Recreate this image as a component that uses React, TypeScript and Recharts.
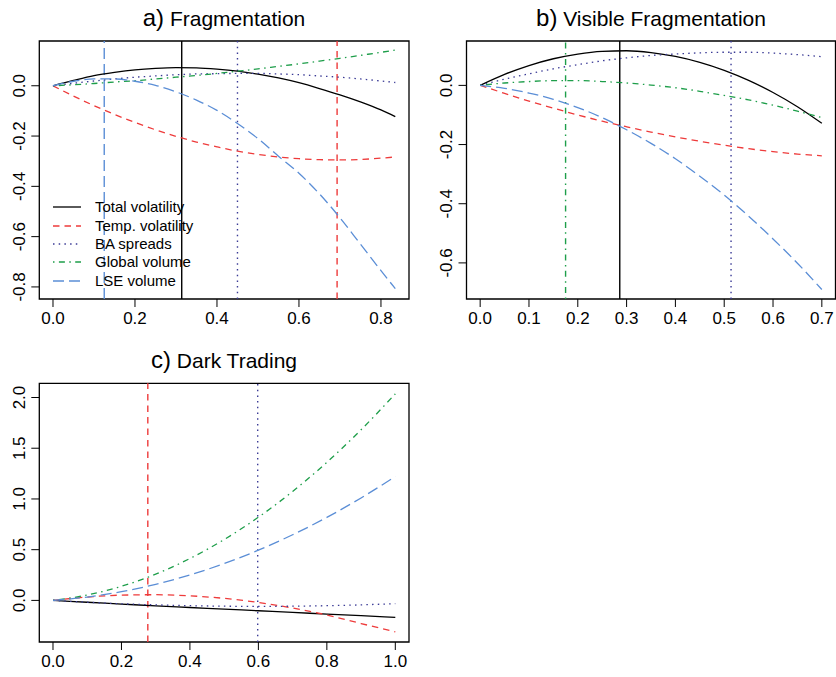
import React from "react";
import {
  LineChart,
  Line,
  XAxis,
  YAxis,
  ReferenceLine,
  ReferenceArea,
  Legend,
} from "recharts";

const FONT = '"Liberation Sans", Arial, Helvetica, sans-serif';

// ─── Data ────────────────────────────────────────────────────────────────────
// a) Fragmentation
const A_X = [0, 0.05, 0.1, 0.15, 0.2, 0.25, 0.3, 0.35, 0.4, 0.45, 0.5, 0.55, 0.6, 0.65, 0.7, 0.75, 0.8, 0.835];
const A_TOTAL = [0, 0.021, 0.04, 0.053, 0.063, 0.069, 0.072, 0.071, 0.066, 0.058, 0.046, 0.031, 0.012, -0.011, -0.036, -0.064, -0.096, -0.123];
const A_TEMP = [0, -0.041, -0.079, -0.114, -0.146, -0.175, -0.201, -0.224, -0.243, -0.26, -0.273, -0.283, -0.29, -0.294, -0.295, -0.293, -0.288, -0.283];
const A_BA = [0, 0.01, 0.019, 0.027, 0.034, 0.039, 0.044, 0.047, 0.048, 0.049, 0.049, 0.047, 0.044, 0.039, 0.034, 0.027, 0.019, 0.013];
const A_GLOBAL = [0, 0.004, 0.009, 0.015, 0.02, 0.027, 0.034, 0.041, 0.049, 0.058, 0.067, 0.077, 0.087, 0.098, 0.109, 0.121, 0.133, 0.142];
const A_LSE = [0, 0.018, 0.027, 0.027, 0.018, 0.002, -0.024, -0.057, -0.098, -0.15, -0.21, -0.28, -0.348, -0.43, -0.525, -0.63, -0.735, -0.807];
const A_XTICKS = [0, 0.2, 0.4, 0.6, 0.8];
const A_YTICKS = [-0.8, -0.6, -0.4, -0.2, 0];
const A_VLINES = { total: 0.314, temp: 0.693, ba: 0.45, lse: 0.125 };

// b) Visible Fragmentation
const B_X = [0, 0.05, 0.1, 0.15, 0.2, 0.25, 0.3, 0.35, 0.4, 0.45, 0.5, 0.55, 0.6, 0.65, 0.7];
const B_TOTAL = [0, 0.037, 0.067, 0.09, 0.106, 0.115, 0.117, 0.111, 0.098, 0.078, 0.051, 0.017, -0.024, -0.072, -0.128];
const B_TEMP = [0, -0.027, -0.053, -0.077, -0.1, -0.121, -0.14, -0.158, -0.174, -0.189, -0.202, -0.214, -0.224, -0.232, -0.238];
const B_BA = [0, 0.021, 0.039, 0.056, 0.07, 0.083, 0.093, 0.101, 0.106, 0.11, 0.112, 0.112, 0.109, 0.104, 0.097];
const B_GLOBAL = [0, 0.008, 0.013, 0.016, 0.016, 0.013, 0.008, 0.001, -0.008, -0.02, -0.034, -0.049, -0.067, -0.087, -0.109];
const B_LSE = [0, -0.01, -0.026, -0.047, -0.075, -0.109, -0.15, -0.196, -0.248, -0.307, -0.371, -0.442, -0.519, -0.601, -0.69];
const B_XTICKS = [0, 0.1, 0.2, 0.3, 0.4, 0.5, 0.6, 0.7];
const B_YTICKS = [-0.6, -0.4, -0.2, 0];
const B_VLINES = { total: 0.286, ba: 0.514, global: 0.175 };

// c) Dark Trading
const C_X = [0, 0.1, 0.2, 0.3, 0.4, 0.5, 0.6, 0.7, 0.8, 0.9, 1.0];
const C_TOTAL = [0, -0.018, -0.036, -0.054, -0.07, -0.086, -0.102, -0.118, -0.135, -0.151, -0.168];
const C_TEMP = [0, 0.033, 0.052, 0.056, 0.045, 0.02, -0.02, -0.075, -0.144, -0.228, -0.31];
const C_BA = [0, -0.018, -0.033, -0.044, -0.052, -0.057, -0.059, -0.057, -0.052, -0.044, -0.032];
const C_GLOBAL = [0, 0.053, 0.139, 0.259, 0.413, 0.6, 0.82, 1.074, 1.361, 1.682, 2.036];
const C_LSE = [0, 0.033, 0.086, 0.158, 0.251, 0.363, 0.495, 0.647, 0.818, 1.01, 1.221];
const C_XTICKS = [0, 0.2, 0.4, 0.6, 0.8, 1.0];
const C_YTICKS = [0, 0.5, 1.0, 1.5, 2.0];
const C_VLINES = { temp: 0.277, ba: 0.598 };

// ─── Series styling ──────────────────────────────────────────────────────────
const SERIES = [
  { key: "total", name: "Total volatility", color: "#000000", dash: undefined as string | undefined },
  { key: "temp", name: "Temp. volatility", color: "#EE3B3B", dash: "6.5 5" },
  { key: "ba", name: "BA spreads", color: "#3B3B96", dash: "1.5 4.2" },
  { key: "global", name: "Global volume", color: "#1E9E4A", dash: "1.5 4.4 6 4.4" },
  { key: "lse", name: "LSE volume", color: "#5B8ED6", dash: "11 5" },
];

function rows(xs: number[], total: number[], temp: number[], ba: number[], global: number[], lse: number[]) {
  return xs.map((x, i) => ({ x, total: total[i], temp: temp[i], ba: ba[i], global: global[i], lse: lse[i] }));
}

const fmt = (v: number) => v.toFixed(1);

function YTick(props: any) {
  const { x, y, payload } = props;
  return (
    <text
      x={x}
      y={y}
      transform={`rotate(-90 ${x} ${y})`}
      textAnchor="middle"
      fontSize={17}
      fontFamily={FONT}
      fill="#000"
    >
      {fmt(payload.value)}
    </text>
  );
}

function LegendBox() {
  return (
    <div style={{ fontFamily: FONT, fontSize: 15, color: "#000" }}>
      {SERIES.map((s) => (
        <div key={s.key} style={{ display: "flex", alignItems: "center", height: 18.4 }}>
          <svg width={28} height={6} style={{ marginRight: 14 }}>
            <line x1={0} y1={3} x2={28} y2={3} stroke={s.color} strokeWidth={1.3} strokeDasharray={s.dash} />
          </svg>
          <span style={{ lineHeight: "18px" }}>{s.name}</span>
        </div>
      ))}
    </div>
  );
}

interface PanelProps {
  data: any[];
  width: number;
  height: number;
  margin: { top: number; right: number; bottom: number; left: number };
  yWidth: number;
  xHeight: number;
  xDomain: [number, number];
  yDomain: [number, number];
  xTicks: number[];
  yTicks: number[];
  vlines: Record<string, number>;
  legend?: boolean;
}

function Panel({ data, width, height, margin, yWidth, xHeight, xDomain, yDomain, xTicks, yTicks, vlines, legend }: PanelProps) {
  return (
    <LineChart width={width} height={height} data={data} margin={margin}>
      <XAxis
        dataKey="x"
        type="number"
        domain={xDomain}
        ticks={xTicks}
        interval={0}
        allowDataOverflow
        height={xHeight}
        axisLine={false}
        tickLine={{ stroke: "#000" }}
        tickSize={8}
        tickMargin={5}
        tickFormatter={fmt}
        tick={{ fill: "#000", fontSize: 17, fontFamily: FONT }}
      />
      <YAxis
        type="number"
        domain={yDomain}
        ticks={yTicks}
        interval={0}
        allowDataOverflow
        width={yWidth}
        axisLine={false}
        tickLine={{ stroke: "#000" }}
        tickSize={8}
        tickMargin={6}
        tick={<YTick />}
      />
      <ReferenceArea
        x1={xDomain[0]}
        x2={xDomain[1]}
        y1={yDomain[0]}
        y2={yDomain[1]}
        fill="none"
        fillOpacity={0}
        stroke="#000"
        strokeWidth={1.3}
        ifOverflow="visible"
      />
      {SERIES.filter((s) => vlines[s.key] !== undefined).map((s) => (
        <ReferenceLine
          key={"v" + s.key}
          x={vlines[s.key]}
          stroke={s.color}
          strokeWidth={1.4}
          strokeDasharray={s.dash}
        />
      ))}
      {SERIES.map((s) => (
        <Line
          key={s.key}
          dataKey={s.key}
          name={s.name}
          type="monotone"
          stroke={s.color}
          strokeWidth={1.3}
          strokeDasharray={s.dash}
          dot={false}
          activeDot={false}
          isAnimationActive={false}
        />
      ))}
      {legend && (
        <Legend
          layout="vertical"
          align="center"
          verticalAlign="middle"
          content={<LegendBox />}
          wrapperStyle={{ left: 53, top: 198, width: 200, height: 95 }}
        />
      )}
    </LineChart>
  );
}

export default function App() {
  const dataA = rows(A_X, A_TOTAL, A_TEMP, A_BA, A_GLOBAL, A_LSE);
  const dataB = rows(B_X, B_TOTAL, B_TEMP, B_BA, B_GLOBAL, B_LSE);
  const dataC = rows(C_X, C_TOTAL, C_TEMP, C_BA, C_GLOBAL, C_LSE);

  return (
    <div
      style={{
        position: "absolute",
        left: 0,
        top: 0,
        width: 836,
        height: 677,
        overflow: "hidden",
        background: "#fff",
        fontFamily: FONT,
      }}
    >
      <div style={{ position: "absolute", left: 0, top: 0 }}>
        <Panel
          data={dataA}
          width={420}
          height={340}
          margin={{ top: 41, right: 11, bottom: 1, left: 0.3 }}
          yWidth={39}
          xHeight={40}
          xDomain={[-0.0334, 0.8684]}
          yDomain={[-0.848, 0.178]}
          xTicks={A_XTICKS}
          yTicks={A_YTICKS}
          vlines={A_VLINES}
          legend
        />
      </div>
      <div style={{ position: "absolute", left: 420, top: 0 }}>
        <Panel
          data={dataB}
          width={416}
          height={340}
          margin={{ top: 41, right: 0.5, bottom: 1, left: 0.5 }}
          yWidth={46}
          xHeight={40}
          xDomain={[-0.028, 0.728]}
          yDomain={[-0.722, 0.15]}
          xTicks={B_XTICKS}
          yTicks={B_YTICKS}
          vlines={B_VLINES}
        />
      </div>
      <div style={{ position: "absolute", left: 0, top: 340 }}>
        <Panel
          data={dataC}
          width={420}
          height={337}
          margin={{ top: 43.3, right: 11, bottom: 1, left: 0.3 }}
          yWidth={39}
          xHeight={34}
          xDomain={[-0.04, 1.04]}
          yDomain={[-0.41, 2.14]}
          xTicks={C_XTICKS}
          yTicks={C_YTICKS}
          vlines={C_VLINES}
        />
      </div>
      <svg
        width={836}
        height={677}
        style={{ position: "absolute", left: 0, top: 0, pointerEvents: "none" }}
      >
        <text x={224} y={26} textAnchor="middle" fontFamily={FONT} fontSize={21} fill="#000">
          <tspan fontSize={24}>a)</tspan> Fragmentation
        </text>
        <text x={651} y={26} textAnchor="middle" fontFamily={FONT} fontSize={21} fill="#000">
          <tspan fontSize={24}>b)</tspan> Visible Fragmentation
        </text>
        <text x={224} y={368} textAnchor="middle" fontFamily={FONT} fontSize={21} fill="#000">
          <tspan fontSize={24}>c)</tspan> Dark Trading
        </text>
      </svg>
    </div>
  );
}
